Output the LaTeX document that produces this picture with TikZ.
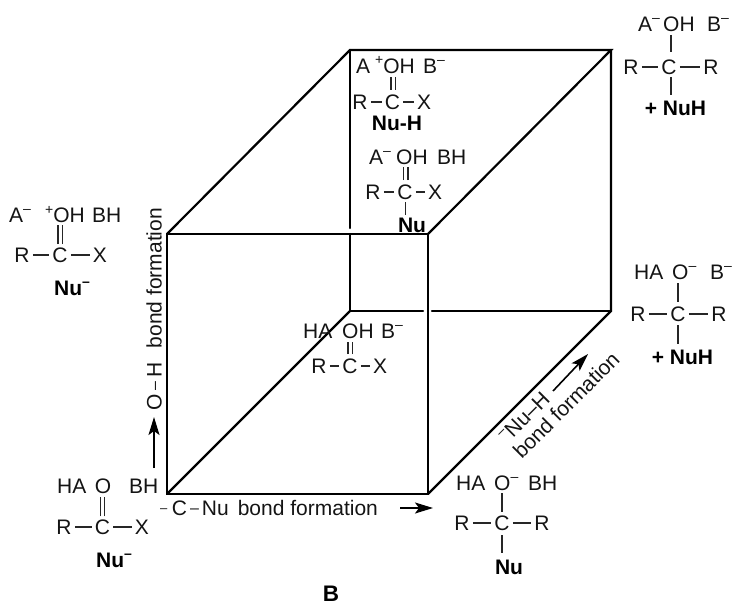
\documentclass[tikz,border=0pt]{standalone}
\usepackage{fontspec}
\setmainfont{Liberation Sans}
\usetikzlibrary{arrows.meta}
\newcommand{\supm}{\raisebox{9pt}{\fontsize{14}{14}\selectfont –}}
\newcommand{\supp}{\raisebox{8.5pt}{\fontsize{14}{14}\selectfont +}}
\newcommand{\dashA}{\raisebox{3pt}{\fontsize{13}{13}\selectfont –}}
\newcommand{\dashB}{\raisebox{2pt}{\fontsize{16}{16}\selectfont –}}
\tikzset{
  base/.style={font=\fontsize{21}{23}\selectfont,text=black!92,text height=15pt,text depth=0pt},
  atom/.style={base,inner sep=3pt,anchor=center},
  txt/.style={base,inner sep=0pt,anchor=west},
  bld/.style={base,inner sep=0pt,anchor=center,font=\fontsize{21}{23}\selectfont\bfseries,text=black},
  bond/.style={line width=1.15pt,black!85},
  cube/.style={line width=2.2pt,black,line cap=round},
  arr/.style={line width=1.6pt,black,-{Stealth[length=18pt,width=11pt,inset=4pt]}}
}
\begin{document}
\begin{tikzpicture}[x=1pt,y=-1pt]
\useasboundingbox (0,0) rectangle (735,604);
% cube
\coordinate (fa) at (167,234);\coordinate (fb) at (428,234);\coordinate (fc) at (428,494);\coordinate (fd) at (167,494);
\coordinate (ba) at (350,50);\coordinate (bb) at (611,50);\coordinate (bc) at (611,311);\coordinate (bd) at (350,311);
\coordinate (g1) at (350,228);\coordinate (g2) at (350,234);\coordinate (g3) at (423,311);\coordinate (g4) at (432,311);
\draw[cube] (fa) -- (fb) -- (fc) -- (fd) -- cycle;
\draw[cube] (fa) -- (ba) -- (bb) -- (fb);
\draw[cube] (bb) -- (bc) -- (fc);
\draw[cube] (fd) -- (bd);
\draw[cube] (ba) -- (g1);
\draw[cube] (g2) -- (bd) -- (g3);
\draw[cube] (g4) -- (bc);
% molecule upper left
\node[txt] (a1) at (9,215) {A\supm};
\node[txt] (o1) at (45,215) {\supp OH};
\node[txt] (b1) at (92,215) {BH};
\node[atom] (c1) at (60,255) {C};
\node[atom] (r1) at (22,255) {R};
\node[atom] (x1) at (100,255) {X};
\node[bld] (n1) at (72,288) {Nu\supm};
\draw[bond] (r1) -- (c1);\draw[bond] (c1) -- (x1);
\draw[bond] (58,244) -- (58,225);\draw[bond] (62.5,244) -- (62.5,225);
% molecule lower left
\node[txt] (a2) at (57,486) {HA};
\node[atom] (o2) at (103,486) {O};
\node[txt] (b2) at (129,486) {BH};
\node[atom] (c2) at (102.5,527) {C};
\node[atom] (r2) at (64,527) {R};
\node[atom] (x2) at (142,527) {X};
\node[bld] (n2) at (114,560) {Nu\supm};
\draw[bond] (r2) -- (c2);\draw[bond] (c2) -- (x2);
\draw[bond] ([xshift=-2.3pt]c2.north) -- ([xshift=-2.3pt]c2.north |- o2.south);
\draw[bond] ([xshift=2.3pt]c2.north) -- ([xshift=2.3pt]c2.north |- o2.south);
% back top
\node[txt] (a3) at (356,66) {A};
\node[txt] (o3) at (375,66) {\supp OH};
\node[txt] (b3) at (423,66) {B\supm};
\node[atom] (c3) at (392.5,102) {C};
\node[atom] (r3) at (360,102) {R};
\node[atom] (x3) at (424,102) {X};
\node[bld] (n3) at (397,123) {Nu-H};
\draw[bond] (r3) -- (c3);\draw[bond] (c3) -- (x3);
\draw[bond] (391,90) -- (391,77);\draw[bond] (395.5,90) -- (395.5,77);
% back middle
\node[txt] (a4) at (369,157) {A\supm};
\node[txt] (o4) at (396,157) {OH};
\node[txt] (b4) at (437,157) {BH};
\node[atom] (c4) at (405,192) {C};
\node[atom] (r4) at (373,192) {R};
\node[atom] (x4) at (435,192) {X};
\node[bld] (n4) at (412,225) {Nu};
\draw[bond] (r4) -- (c4);\draw[bond] (c4) -- (x4);
\draw[bond] (403.5,180) -- (403.5,167);\draw[bond] (408,180) -- (408,167);
\draw[bond] (405.5,202) -- (405.5,215);
% centre
\node[txt] (a5) at (303,331) {HA};
\node[txt] (o5) at (342,331) {OH};
\node[txt] (b5) at (381,331) {B\supm};
\node[atom] (c5) at (350,366) {C};
\node[atom] (r5) at (319,366) {R};
\node[atom] (x5) at (380,366) {X};
\draw[bond] (r5) -- (c5);\draw[bond] (c5) -- (x5);
\draw[bond] (348,354) -- (348,342);\draw[bond] (352.5,354) -- (352.5,342);
% top right
\node[txt] (a6) at (638,24) {A\supm};
\node[txt] (o6) at (663,24) {OH};
\node[txt] (b6) at (707,24) {B\supm};
\node[atom] (c6) at (669,67) {C};
\node[atom] (r6) at (631,67) {R};
\node[atom] (x6) at (711,67) {R};
\node[bld] (n6) at (675.5,108) {+ NuH};
\draw[bond] (r6) -- (c6);\draw[bond] (c6) -- (x6);
\draw[bond] (671,35) -- (671,52);\draw[bond] (671,77) -- (671,95);
% right
\node[txt] (a7) at (634,272) {HA};
\node[txt] (o7) at (672,272) {O\supm};
\node[txt] (b7) at (710,272) {B\supm};
\node[atom] (c7) at (678,314) {C};
\node[atom] (r7) at (638,314) {R};
\node[atom] (x7) at (719,314) {R};
\node[bld] (n7) at (682.5,357) {+ NuH};
\draw[bond] (r7) -- (c7);\draw[bond] (c7) -- (x7);
\draw[bond] (678,283) -- (678,302);\draw[bond] (678,325) -- (678,344);
% bottom right
\node[txt] (a8) at (456,483) {HA};
\node[txt] (o8) at (494,483) {O\supm};
\node[txt] (b8) at (528,483) {BH};
\node[atom] (c8) at (502,523) {C};
\node[atom] (r8) at (462,523) {R};
\node[atom] (x8) at (542,523) {R};
\node[bld] (n8) at (509,567) {Nu};
\draw[bond] (r8) -- (c8);\draw[bond] (c8) -- (x8);
\draw[bond] (502,493) -- (502,512);\draw[bond] (502,535) -- (502,553);
% axis labels
\node[txt] (l1) at (160,508) {\dashA\kern4.5pt C\kern3pt\dashB\kern3pt Nu\kern9pt bond formation};
\coordinate (l1s) at (400,508);\coordinate (l1e) at (433,508);
\draw[arr] (l1s) -- (l1e);
\node[base,inner sep=0pt,rotate=90] (l2) at (154,278) {bond formation};
\node[base,inner sep=0pt,rotate=90] (l3) at (154,386.5) {O\,\dashB\,H};
\coordinate (l2s) at (154,468);\coordinate (l2e) at (154,417);
\draw[arr] (l2s) -- (l2e);
\node[base,inner sep=0pt,rotate=45] (l4) at (566,405) {bond formation};
\node[base,inner sep=0pt,rotate=45] (l5) at (524,417) {\supm Nu–H};
\coordinate (l4s) at (553,391);\coordinate (l4e) at (588,354);
\draw[arr] (l4s) -- (l4e);
\node[bld,font=\fontsize{22.5}{24}\selectfont\bfseries] (bt) at (331,594) {B};
\end{tikzpicture}
\end{document}
